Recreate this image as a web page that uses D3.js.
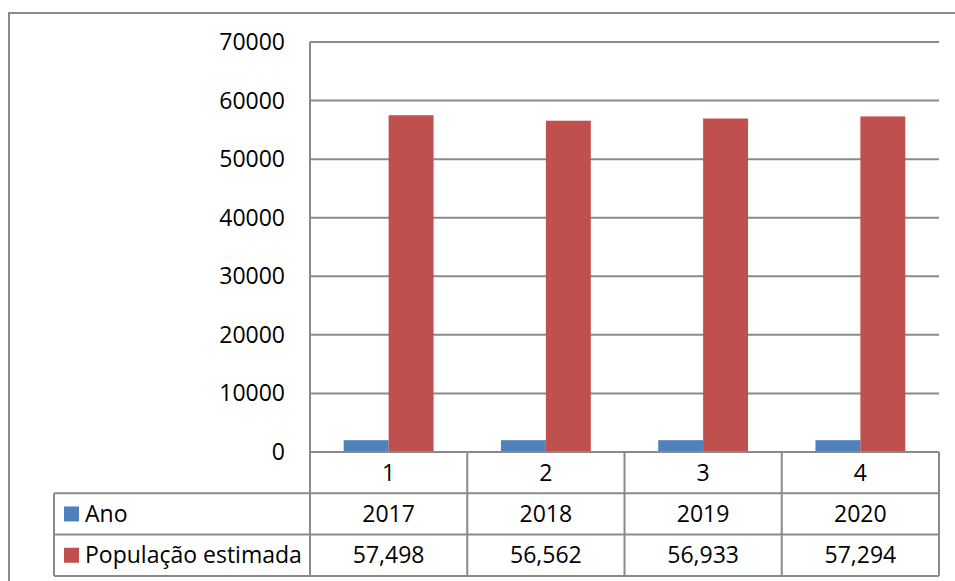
<!DOCTYPE html>
<html>
<head>
<meta charset="utf-8">
<script src="https://cdn.jsdelivr.net/npm/d3@7"></script>
<style>
  html, body { margin: 0; padding: 0; background: #fff; }
  svg { display: block; }
  text { font-family: "Open Sans", Lato, sans-serif; fill: #000; }
</style>
</head>
<body>
<svg width="955" height="581"></svg>
<script>
// chart data
const categories = ["1", "2", "3", "4"];
const seriesNames = ["Ano", "População estimada"];
const anoValues = [2017, 2018, 2019, 2020];
const popValues = [57498, 56562, 56933, 57294];
const yTicks = [0, 10000, 20000, 30000, 40000, 50000, 60000, 70000];
const colors = ["#4f81bd", "#c0504d"];

const svg = d3.select("svg");
const lineColor = "#8a8a8a";

const plotLeft = 310, plotRight = 939, plotTop = 42, plotBottom = 452;
const rowH = 41.3;
const tableLeft = 54;
const fontSize = "23px";

// outer chart frame (right & bottom run off the picture)
svg.append("rect")
    .attr("x", 9).attr("y", 13)
    .attr("width", 1000).attr("height", 1000)
    .attr("fill", "none")
    .attr("stroke", lineColor)
    .attr("stroke-width", 2);

let x = d3.scaleBand()
    .domain(categories)
    .range([plotLeft, plotRight])
    .padding(0);

let xs = d3.scaleBand()
    .domain(seriesNames)
    .range([0, x.bandwidth()])
    .paddingInner(0)
    .paddingOuter(0.75);

let y = d3.scaleLinear()
    .domain([0, 70000])
    .range([plotBottom, plotTop]);

// gridlines
svg.append("g")
    .selectAll("line")
    .data(yTicks)
    .enter()
    .append("line")
    .attr("x1", plotLeft).attr("x2", plotRight)
    .attr("y1", d => y(d)).attr("y2", d => y(d))
    .attr("stroke", lineColor)
    .attr("stroke-width", 2);

// y tick labels
svg.append("g")
    .selectAll("text")
    .data(yTicks)
    .enter()
    .append("text")
    .attr("x", 285)
    .attr("y", d => y(d))
    .attr("dy", "0.35em")
    .attr("text-anchor", "end")
    .attr("font-size", fontSize)
    .text(d => d);

// bars
const barData = [];
categories.forEach(function(c, i) {
    barData.push({cat: c, s: seriesNames[0], value: anoValues[i], color: colors[0]});
    barData.push({cat: c, s: seriesNames[1], value: popValues[i], color: colors[1]});
});

svg.append("g")
    .selectAll("rect")
    .data(barData)
    .enter()
    .append("rect")
    .attr("x", d => x(d.cat) + xs(d.s))
    .attr("width", xs.bandwidth())
    .attr("y", d => y(d.value))
    .attr("height", d => y(0) - y(d.value))
    .attr("fill", d => d.color);

// data table
const tbl = svg.append("g")
    .attr("fill", "none")
    .attr("stroke", lineColor)
    .attr("stroke-width", 2);

const rowY = [plotBottom, plotBottom + rowH, plotBottom + 2 * rowH, plotBottom + 3 * rowH];

// horizontal lines
tbl.append("line").attr("x1", plotLeft).attr("x2", plotRight).attr("y1", rowY[0]).attr("y2", rowY[0]);
for (let i = 1; i < rowY.length; i++) {
    tbl.append("line").attr("x1", tableLeft).attr("x2", plotRight).attr("y1", rowY[i]).attr("y2", rowY[i]);
}
// vertical lines
tbl.append("line").attr("x1", plotLeft).attr("x2", plotLeft).attr("y1", plotTop).attr("y2", rowY[3]);
tbl.append("line").attr("x1", tableLeft).attr("x2", tableLeft).attr("y1", rowY[1]).attr("y2", rowY[3]);
categories.forEach(function(c) {
    const xr = x(c) + x.bandwidth();
    tbl.append("line").attr("x1", xr).attr("x2", xr).attr("y1", rowY[0]).attr("y2", rowY[3]);
});

// category labels
svg.append("g")
    .selectAll("text")
    .data(categories)
    .enter()
    .append("text")
    .attr("x", d => x(d) + x.bandwidth() / 2)
    .attr("y", (rowY[0] + rowY[1]) / 2)
    .attr("dy", "0.35em")
    .attr("text-anchor", "middle")
    .attr("font-size", fontSize)
    .text(d => d);

const rows = [anoValues.map(String), popValues.map(d3.format(","))];
rows.forEach(function(vals, r) {
    const cy = (rowY[r + 1] + rowY[r + 2]) / 2;
    svg.append("g")
        .selectAll("text")
        .data(vals)
        .enter()
        .append("text")
        .attr("x", (d, i) => x(categories[i]) + x.bandwidth() / 2)
        .attr("y", cy)
        .attr("dy", "0.35em")
        .attr("text-anchor", "middle")
        .attr("font-size", fontSize)
        .text(d => d);

    // legend key + series name
    svg.append("rect")
        .attr("x", 64).attr("y", cy - 7.5)
        .attr("width", 15).attr("height", 15)
        .attr("fill", colors[r]);
    svg.append("text")
        .attr("x", 85)
        .attr("y", cy)
        .attr("dy", "0.35em")
        .attr("font-size", fontSize)
        .text(seriesNames[r]);
});
</script>
</body>
</html>
